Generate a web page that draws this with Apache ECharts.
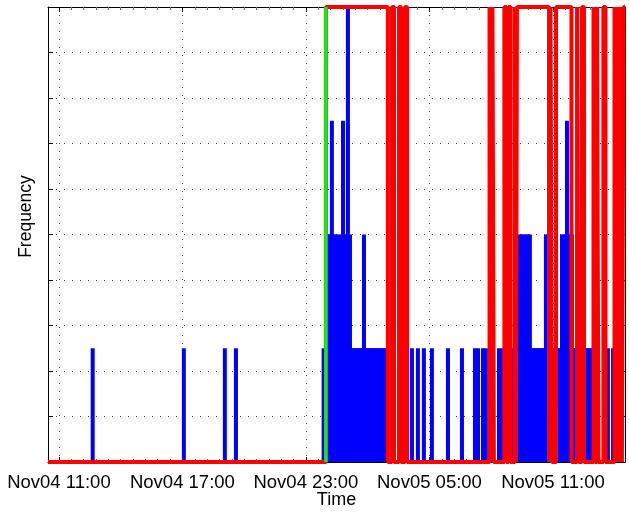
<!DOCTYPE html>
<html>
<head>
<meta charset="utf-8">
<script src="https://cdn.jsdelivr.net/npm/echarts@6/dist/echarts.min.js"></script>
<style>
  html, body { margin: 0; padding: 0; background: #fff; }
  #chart { width: 629px; height: 512px; }
</style>
</head>
<body>
<div id="chart"></div>
<script>
// all times are hours counted from Nov04 00:00
// the axis itself runs in hours since Nov04 05:00 so 6h ticks fall on 11:00, 17:00, ...
const ORIGIN = 5
const X_MIN = 10.47
const X_MAX = 38.5
const Y_MAX = 4

const tickHours = [11, 17, 23, 29, 35]
const tickLabels = ['Nov04 11:00', 'Nov04 17:00', 'Nov04 23:00', 'Nov05 05:00', 'Nov05 11:00']

// blue stems
const freqTimes = [
  12.64, 17.07, 19.06, 19.60, 23.86,
  24.07, 24.17, 24.26, 24.36, 24.46, 24.55, 24.70, 24.80, 24.89, 24.99, 25.04, 25.14,
  25.23, 25.33, 25.43, 25.53, 25.62, 25.72, 25.82, 25.92, 26.01, 26.11, 26.21, 26.30,
  26.40, 26.50, 26.60, 26.69, 26.79, 26.89,
  28.15, 28.44, 28.73, 29.12, 29.90, 30.58, 31.21, 31.36, 31.60, 31.74, 32.38, 32.57, 33.06,
  33.30, 33.40, 33.49, 33.59, 33.69, 33.79, 33.88, 33.98, 34.08, 34.17, 34.27, 34.37,
  34.47, 34.56, 34.66, 34.76, 34.85, 34.95, 35.05, 35.15, 35.24, 35.34, 35.44, 35.53,
  35.63, 35.68, 35.73, 35.83, 35.92, 36.02, 36.12, 36.21, 36.31, 36.41, 36.51, 36.60,
  36.70, 36.80, 36.89, 37.67, 37.92
]
const freqValues = [
  1, 1, 1, 1, 1,
  2, 2, 3, 2, 2, 2, 2, 3, 2, 2, 4, 2,
  1, 1, 1, 1, 1, 1, 2, 1, 1, 1, 1, 1,
  1, 1, 1, 1, 1, 1,
  1, 1, 1, 1, 1, 1, 1, 1, 1, 1, 1, 1, 1,
  1, 2, 2, 2, 2, 2, 2, 1, 1, 1, 1, 1,
  1, 1, 2, 2, 1, 1, 1, 1, 1, 1, 2, 2,
  2, 3, 2, 2, 2, 1, 1, 1, 1, 1, 1, 1,
  1, 1, 1, 1, 1
]

// red on/off signal, value holds from each time onward
const stateTimes = [
  10.47, 23.97, 26.98, 27.18, 27.28, 27.52, 27.62, 27.81, 27.91,
  31.92, 31.99, 32.06, 32.13, 32.64, 32.74, 32.84, 32.94,
  33.15, 33.20, 33.25, 34.81, 34.88, 34.95, 35.15, 35.90,
  36.17, 36.26, 36.41, 36.51, 36.97, 37.04, 37.14, 37.21, 37.45, 37.55,
  37.99, 38.06, 38.13, 38.21, 38.28, 38.35, 38.43, 38.50
]
const stateValues = [
  0, 4, 0, 4, 0, 4, 0, 4, 0,
  4, 0, 4, 0, 4, 0, 4, 0,
  4, 0, 4, 0, 4, 0, 4, 0,
  4, 0, 4, 0, 4, 0, 4, 0, 4, 0,
  4, 0, 4, 0, 4, 0, 4, 4
]

const markerTime = 23.97

const FONT = "'Liberation Sans', Arial, Helvetica, sans-serif"
const toAxis = h => h - ORIGIN

function xLabel(v) {
  const i = tickHours.indexOf(Math.round((v + ORIGIN) * 100) / 100)
  return i >= 0 ? tickLabels[i] : ''
}

const gridDots = { show: true, lineStyle: { color: '#444', width: 1, type: [1, 7] } }

const xCommon = {
  type: 'value',
  min: toAxis(X_MIN),
  max: toAxis(X_MAX),
  minInterval: 6,
  maxInterval: 6,
  axisLine: { show: true, onZero: false, lineStyle: { color: '#000', width: 1 } },
  axisTick: { show: true, inside: true, length: 5, lineStyle: { color: '#000' } },
  minorTick: { show: true, splitNumber: 10, length: 3, lineStyle: { color: '#666' } },
}

const yCommon = {
  type: 'value',
  min: 0,
  max: Y_MAX,
  interval: 0.4,
  axisLine: { show: true, onZero: false, lineStyle: { color: '#000', width: 1 } },
  axisTick: { show: true, inside: true, length: 5, lineStyle: { color: '#000' } },
  axisLabel: { show: false },
}

const chart = echarts.init(document.getElementById('chart'), null, { renderer: 'canvas' })

chart.setOption({
  animation: false,
  backgroundColor: '#fff',
  grid: { left: 48, right: 4, top: 7, bottom: 50, containLabel: false, outerBoundsMode: 'none' },
  xAxis: [
    Object.assign({}, xCommon, {
      position: 'bottom',
      name: 'Time',
      nameLocation: 'middle',
      nameGap: 29,
      nameMoveOverlap: false,
      nameTextStyle: { color: '#000', fontSize: 18, fontFamily: FONT },
      axisLabel: {
        show: true, margin: 11, color: '#000', fontSize: 18.5, fontFamily: FONT,
        showMinLabel: false, showMaxLabel: false, formatter: xLabel
      },
      splitLine: gridDots,
    }),
    Object.assign({}, xCommon, {
      position: 'top',
      axisLabel: { show: false },
      splitLine: { show: false },
    }),
  ],
  yAxis: [
    Object.assign({}, yCommon, {
      position: 'left',
      name: 'Frequency',
      nameLocation: 'middle',
      nameGap: 13,
      nameMoveOverlap: false,
      nameTextStyle: { color: '#000', fontSize: 17.5, fontFamily: FONT, padding: [0, 0, 0, 36] },
      splitLine: gridDots,
    }),
    Object.assign({}, yCommon, {
      position: 'right',
      splitLine: { show: false },
    }),
  ],
  series: [
    {
      name: 'frequency',
      type: 'bar',
      xAxisIndex: 0,
      yAxisIndex: 0,
      barWidth: 4,
      itemStyle: { color: '#0000ff' },
      z: 2,
      data: freqTimes.map((t, i) => [toAxis(t), freqValues[i]]),
    },
    {
      name: 'state',
      type: 'line',
      step: 'end',
      showSymbol: false,
      lineStyle: { color: '#ff0000', width: 4 },
      z: 3,
      data: stateTimes.map((t, i) => [toAxis(t), stateValues[i]]),
    },
    {
      name: 'marker',
      type: 'line',
      showSymbol: false,
      lineStyle: { color: '#11ee11', width: 3.5 },
      z: 4,
      data: [[toAxis(markerTime), 0], [toAxis(markerTime), Y_MAX]],
    },
  ],
})
</script>
</body>
</html>
